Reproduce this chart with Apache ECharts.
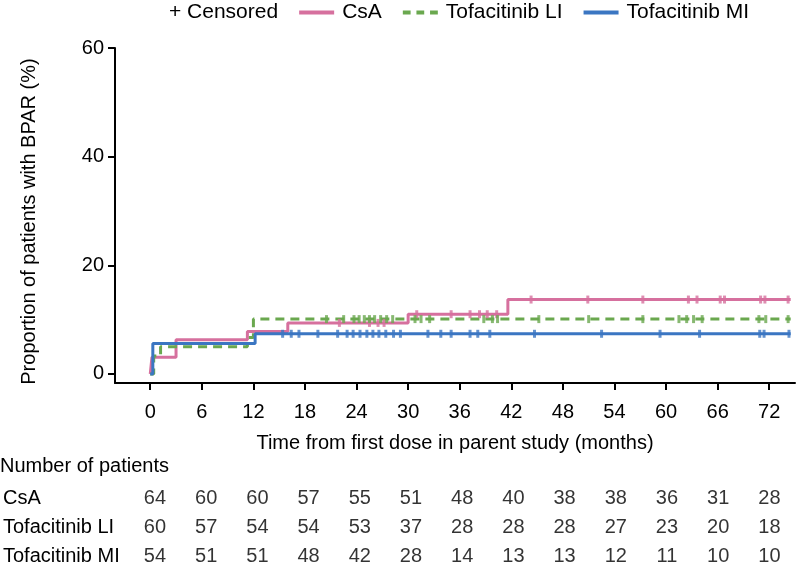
<!DOCTYPE html>
<html><head><meta charset="utf-8">
<script src="https://cdn.jsdelivr.net/npm/echarts@6/dist/echarts.min.js"></script>
<style>html,body{margin:0;padding:0;background:#fff}#c{width:800px;height:567px}</style>
</head><body><div id="c"></div>
<script>
const timeTicks = [0, 6, 12, 18, 24, 30, 36, 42, 48, 54, 60, 66, 72];
const yTicks = [0, 20, 40, 60];
const groups = ['CsA', 'Tofacitinib LI', 'Tofacitinib MI'];

// Kaplan-Meier style cumulative curves [month, %]
const csaCurve = [[0, 0], [0.2, 3.1], [3.0, 6.3], [11.3, 7.8], [16.0, 9.4], [30.0, 11.0], [41.6, 13.7], [74.5, 13.7]];
const liCurve = [[0, 0], [0.4, 3.3], [1.2, 5.0], [11.3, 6.7], [12.0, 10.1], [74.5, 10.1]];
const miCurve = [[0, 0], [0.3, 5.6], [12.2, 7.4], [74.5, 7.4]];

// Censored observations [month, %]
const csaCensor = [[22.0, 9.4], [25.5, 9.4], [26.5, 9.4], [27.2, 9.4], [31.0, 11.0], [35.0, 11.0], [37.2, 11.0], [38.3, 11.0], [39.2, 11.0], [40.3, 11.0],
  [44.3, 13.7], [50.9, 13.7], [57.3, 13.7], [62.6, 13.7], [63.6, 13.7], [66.3, 13.7], [66.8, 13.7], [71.0, 13.7], [71.5, 13.7], [74.2, 13.7]];
const liCensor = [[20.5, 10.1], [22.5, 10.1], [23.7, 10.1], [24.3, 10.1], [24.9, 10.1], [25.5, 10.1], [26.1, 10.1], [26.8, 10.1], [27.5, 10.1], [28.2, 10.1],
  [30.8, 10.1], [31.5, 10.1], [32.5, 10.1], [38.8, 10.1], [39.8, 10.1], [40.4, 10.1], [45.2, 10.1], [51.0, 10.1], [57.3, 10.1], [61.5, 10.1],
  [62.4, 10.1], [63.2, 10.1], [64.2, 10.1], [70.8, 10.1], [71.6, 10.1], [74.2, 10.1]];
const miCensor = [[15.4, 7.4], [16.4, 7.4], [17.3, 7.4], [19.5, 7.4], [21.8, 7.4], [22.9, 7.4], [23.6, 7.4], [24.4, 7.4], [25.2, 7.4], [25.9, 7.4],
  [26.6, 7.4], [27.4, 7.4], [28.3, 7.4], [29.1, 7.4], [32.3, 7.4], [33.8, 7.4], [35.0, 7.4], [37.2, 7.4], [38.1, 7.4], [39.5, 7.4],
  [44.7, 7.4], [52.5, 7.4], [59.3, 7.4], [63.9, 7.4], [70.9, 7.4], [71.4, 7.4], [74.3, 7.4]];

// Number of patients at risk
const csaAtRisk = [64, 60, 60, 57, 55, 51, 48, 40, 38, 38, 36, 31, 28];
const liAtRisk = [60, 57, 54, 54, 53, 37, 28, 28, 28, 27, 23, 20, 18];
const miAtRisk = [54, 51, 51, 48, 42, 28, 14, 13, 13, 12, 11, 10, 10];

const colors = { csa: '#d6709e', li: '#6aa84f', mi: '#3b76c2' };
const FONT = 'Liberation Sans, Arial, Helvetica, sans-serif';
const FS = 20;

const chart = echarts.init(document.getElementById('c'), null, { renderer: 'canvas' });

function censorSeries(data, color) {
  return {
    name: '+ Censored', type: 'scatter', data: data, symbol: 'rect', symbolSize: [3, 8],
    itemStyle: { color: color }, z: 5, silent: true
  };
}
function lineSeries(name, data, color, type) {
  return {
    name: name, type: 'line', step: 'end', data: data, symbol: 'none', showSymbol: false,
    lineStyle: { color: color, width: 3, type: type }, itemStyle: { color: color }, z: 3, silent: true
  };
}
function riskSeries(group, counts) {
  return {
    name: 'risk-' + group, type: 'scatter', xAxisIndex: 1, yAxisIndex: 1, symbolSize: 1,
    itemStyle: { color: 'rgba(0,0,0,0)' }, silent: true,
    data: timeTicks.map((t, i) => [t, group, counts[i]]),
    label: { show: true, position: 'inside', formatter: p => String(p.value[2]), color: '#000', fontSize: FS, fontFamily: FONT }
  };
}

const axisLineStyle = { color: '#000', width: 2 };
const solidIcon = 'path://M0,0h36v4h-36z';
const dashIcon = 'path://M0,0h8v4h-8zM14,0h8v4h-8zM28,0h8v4h-8z';

chart.setOption({
  animation: false,
  textStyle: { fontFamily: FONT },
  title: { text: 'Number of patients', left: 0, top: 456, padding: 0,
    textStyle: { fontSize: FS, fontWeight: 'normal', color: '#000', fontFamily: FONT } },
  legend: {
    data: [
      { name: '+ Censored', icon: 'none' },
      { name: 'CsA', icon: solidIcon },
      { name: 'Tofacitinib LI', icon: dashIcon },
      { name: 'Tofacitinib MI', icon: solidIcon }
    ],
    left: 121, top: -3, itemWidth: 35, itemHeight: 4, itemGap: 21,
    textStyle: { fontSize: 21, color: '#000', fontFamily: FONT, padding: [0, 0, 0, 3] }, selectedMode: false
  },
  grid: [
    { left: 115, right: 5, top: 48, bottom: 184 },
    { left: 115, right: 5, top: 498, height: 58 }
  ],
  xAxis: [
    {
      type: 'value', min: -4.1, max: 75, gridIndex: 0,
      axisLine: { show: true, onZero: false, lineStyle: axisLineStyle },
      axisTick: { show: true, customValues: timeTicks, length: 7, lineStyle: axisLineStyle },
      axisLabel: { customValues: timeTicks, fontSize: FS, color: '#000', margin: 19, fontFamily: FONT },
      splitLine: { show: false },
      name: 'Time from first dose in parent study (months)', nameLocation: 'middle', nameGap: 50,
      nameTextStyle: { fontSize: FS, color: '#000', fontFamily: FONT }
    },
    { type: 'value', min: -4.1, max: 75, gridIndex: 1, show: false }
  ],
  yAxis: [
    {
      type: 'value', min: -1.66, max: 60, gridIndex: 0,
      axisLine: { show: true, onZero: false, lineStyle: axisLineStyle },
      axisTick: { show: true, customValues: yTicks, length: 7, lineStyle: axisLineStyle },
      axisLabel: { customValues: yTicks, fontSize: FS, color: '#000', margin: 11, fontFamily: FONT },
      splitLine: { show: false },
      name: 'Proportion of patients with BPAR (%)', nameLocation: 'middle', nameGap: 76,
      nameTextStyle: { fontSize: FS, color: '#000', fontFamily: FONT, padding: [0, 12, 0, 0] }
    },
    {
      type: 'category', gridIndex: 1, data: groups, inverse: true, boundaryGap: false,
      axisLine: { show: false }, axisTick: { show: false }, splitLine: { show: false },
      axisLabel: { align: 'left', margin: 117, fontSize: FS, color: '#000', fontFamily: FONT }
    }
  ],
  series: [
    lineSeries('CsA', csaCurve, colors.csa, 'solid'),
    lineSeries('Tofacitinib LI', liCurve, colors.li, [9, 6]),
    lineSeries('Tofacitinib MI', miCurve, colors.mi, 'solid'),
    censorSeries(csaCensor, colors.csa),
    censorSeries(liCensor, colors.li),
    censorSeries(miCensor, colors.mi),
    riskSeries('CsA', csaAtRisk),
    riskSeries('Tofacitinib LI', liAtRisk),
    riskSeries('Tofacitinib MI', miAtRisk)
  ]
});
</script></body></html>
